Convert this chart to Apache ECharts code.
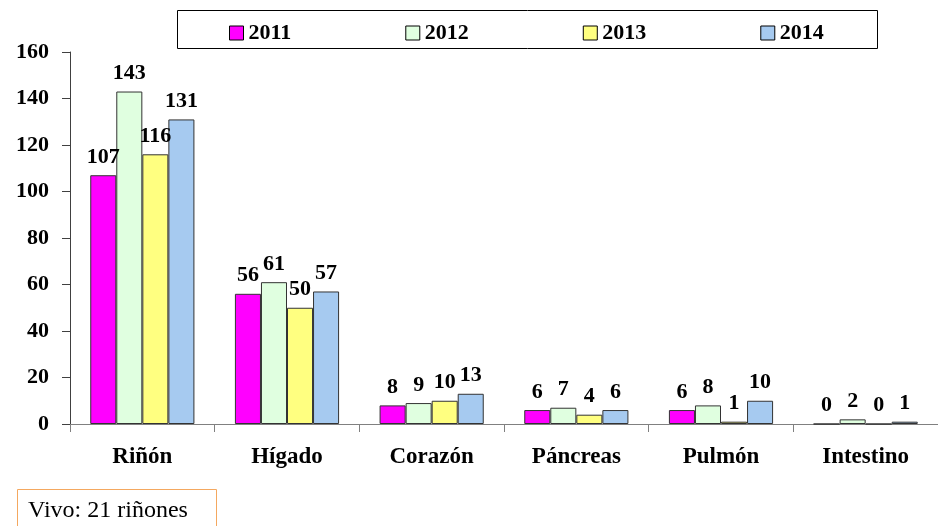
<!DOCTYPE html>
<html><head><meta charset="utf-8">
<script src="https://cdn.jsdelivr.net/npm/echarts@6/dist/echarts.min.js"></script>
<style>html,body{margin:0;padding:0;background:#fff}#c{width:938px;height:526px}</style>
</head><body><div id="c"></div>
<script>
const categories = ['Riñón','Hígado','Corazón','Páncreas','Pulmón','Intestino'];
const years = ['2011','2012','2013','2014'];
const v2011 = [107,56,8,6,6,0];
const v2012 = [143,61,9,7,8,2];
const v2013 = [116,50,10,4,1,0];
const v2014 = [131,57,13,6,10,1];
const yTicks = [0,20,40,60,80,100,120,140,160];
const note = 'Vivo: 21 riñones';

const colors = ['#FF00FF','#E0FFE0','#FFFF80','#A6CAF0'];
const values = [v2011,v2012,v2013,v2014];
const font = 'Liberation Serif, Times New Roman, serif';
const chart = echarts.init(document.getElementById('c'));
chart.setOption({
  animation:false,
  textStyle:{fontFamily:font},
  grid:{left:70, top:52, width:880, bottom:102, containLabel:false},
  legend:{
    data:years, top:17, left:224, itemGap:114, itemWidth:14, itemHeight:14,
    icon:'rect',
    textStyle:{fontFamily:font, fontWeight:'bold', fontSize:22, color:'#000'},
    itemStyle:{borderColor:'#000', borderWidth:1}
  },
  xAxis:{
    type:'category', data:categories,
    axisLine:{lineStyle:{color:'#808080', width:1}},
    axisTick:{show:true, length:8, lineStyle:{color:'#808080'}},
    axisLabel:{fontFamily:font, fontWeight:'bold', fontSize:23, color:'#000', margin:22}
  },
  yAxis:{
    type:'value', min:0, max:160, interval:20,
    axisLine:{show:true, lineStyle:{color:'#404040'}},
    axisTick:{show:true, length:8, lineStyle:{color:'#404040'}},
    splitLine:{show:false},
    axisLabel:{fontFamily:font, fontWeight:'bold', fontSize:22, color:'#000', margin:21,
      formatter:(v)=> yTicks.includes(v) ? String(v) : ''}
  },
  series: years.map((y,i)=>({
    name:y, type:'bar', data:values[i],
    barGap:'0%', barCategoryGap:'28%',
    itemStyle:{color:colors[i], borderColor:'#333', borderWidth:1},
    label:{show:true, position:'top', distance:7, fontFamily:font, fontWeight:'bold', fontSize:22, color:'#000'}
  })),
  graphic:[
    {type:'rect', left:175, top:8, shape:{width:700, height:38}, style:{fill:'none', stroke:'#000', lineWidth:1}, z:-1},
    {type:'rect', left:17, top:489, shape:{width:199, height:40}, style:{fill:'#fff', stroke:'#F4A860', lineWidth:1}},
    {type:'text', left:28, top:499, style:{text:note, fontFamily:font, fontSize:24, fill:'#000'}}
  ]
});
</script></body></html>
